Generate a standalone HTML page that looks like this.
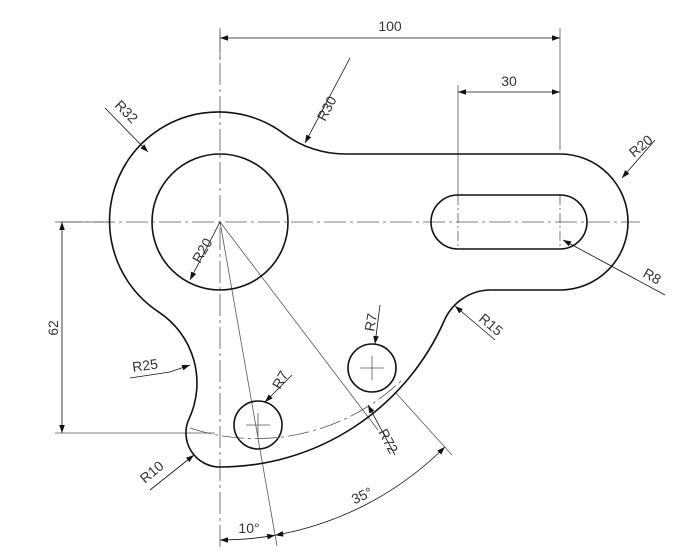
<!DOCTYPE html>
<html><head><meta charset="utf-8"><style>
html,body{margin:0;padding:0;background:#fff;}
svg{display:block;}
text{font-family:"Liberation Sans",sans-serif;font-size:14px;fill:#333;}
</style></head><body>
<svg width="691" height="560" viewBox="0 0 691 560">
<defs>
<marker id="ar" viewBox="0 0 10 10" refX="10" refY="5" markerWidth="12" markerHeight="8" orient="auto-start-reverse" markerUnits="userSpaceOnUse"><path d="M0,1.5 L10,5 L0,8.5 z" fill="#111"/></marker>
</defs>
<g stroke="#555" stroke-width="0.8" fill="none" stroke-dasharray="22,4,3,4">
<line x1="220" y1="30" x2="220" y2="548"/>
<line x1="60" y1="222" x2="640" y2="222"/>
<path d="M190,428 A211,211 0 0 0 402,380"/>
</g>
<g stroke="#555" stroke-width="0.8" fill="none">
<line x1="458" y1="195" x2="458" y2="249" stroke-dasharray="10,3,2,3"/>
<line x1="560" y1="195" x2="560" y2="249" stroke-dasharray="10,3,2,3"/>
<line x1="246" y1="425" x2="270" y2="425"/><line x1="258" y1="413" x2="258" y2="437"/>
<line x1="360" y1="368" x2="384" y2="368"/><line x1="372" y1="356" x2="372" y2="380"/>
<line x1="220" y1="222" x2="378" y2="430"/>
<line x1="220" y1="222" x2="277" y2="546"/>
<line x1="395" y1="392" x2="452" y2="455"/>
<line x1="220" y1="28" x2="220" y2="60"/>
<line x1="560" y1="28" x2="560" y2="150"/>
<line x1="458" y1="85" x2="458" y2="195"/>
<line x1="55" y1="222" x2="110" y2="222"/>
<line x1="55" y1="433" x2="215" y2="433"/>
</g>
<path fill="none" stroke="#111" stroke-width="1.6"
d="M345,154 L560,154 A68,68 0 0 1 628,222 A68,68 0 0 1 560,290 L491,290 A51,51 0 0 0 444.3,320.5 A245,245 0 0 1 220,467 A34,34 0 0 1 189.1,418.7 A85,85 0 0 0 159.3,312.4 A109,109 0 1 1 284.6,134.2 A102,102 0 0 0 345,154 Z"/>
<circle cx="220" cy="222" r="68" fill="none" stroke="#111" stroke-width="1.6"/>
<rect x="431" y="195" width="156" height="54" rx="27" fill="none" stroke="#111" stroke-width="1.6"/>
<circle cx="258" cy="425" r="24" fill="none" stroke="#111" stroke-width="1.6"/>
<circle cx="372" cy="368" r="24" fill="none" stroke="#111" stroke-width="1.6"/>
<g stroke="#111" stroke-width="0.8" fill="none">
<line x1="220" y1="38" x2="560" y2="38" marker-start="url(#ar)" marker-end="url(#ar)"/>
<line x1="458" y1="92" x2="560" y2="92" marker-start="url(#ar)" marker-end="url(#ar)"/>
<line x1="62" y1="222" x2="62" y2="433" marker-start="url(#ar)" marker-end="url(#ar)"/>
<path d="M220,540 A318,318 0 0 0 275.2,535.2" marker-start="url(#ar)" marker-end="url(#ar)"/>
<path d="M275.2,535.2 A318,318 0 0 0 444.9,446.9" marker-start="url(#ar)" marker-end="url(#ar)"/>
<line x1="105" y1="108" x2="148" y2="152" marker-end="url(#ar)"/>
<line x1="350" y1="58" x2="305" y2="143" marker-end="url(#ar)"/>
<line x1="220" y1="222" x2="190" y2="280" marker-end="url(#ar)"/>
<line x1="655" y1="140" x2="622" y2="178" marker-end="url(#ar)"/>
<line x1="665" y1="295" x2="563" y2="240" marker-end="url(#ar)"/>
<polyline points="130,378 170,372 190,365" marker-end="url(#ar)"/>
<line x1="495" y1="340" x2="455" y2="306" marker-end="url(#ar)"/>
<line x1="292" y1="375" x2="265" y2="402" marker-end="url(#ar)"/>
<line x1="380" y1="305" x2="375" y2="344" marker-end="url(#ar)"/>
<line x1="150" y1="490" x2="194" y2="455" marker-end="url(#ar)"/>
<line x1="395" y1="455" x2="368" y2="405" marker-end="url(#ar)"/>
</g>
<text x="390" y="31" text-anchor="middle">100</text>
<text x="509" y="86" text-anchor="middle">30</text>
<text transform="translate(58,328) rotate(-90)" text-anchor="middle">62</text>
<text x="249" y="533" text-anchor="middle">10°</text>
<text transform="translate(364,500) rotate(-25)" text-anchor="middle">35°</text>
<text transform="translate(114,106) rotate(45)">R32</text>
<text transform="translate(325,122) rotate(-62)">R30</text>
<text transform="translate(200,264) rotate(-60)">R20</text>
<text transform="translate(634,158) rotate(-40)">R20</text>
<text transform="translate(642,276) rotate(30)">R8</text>
<text transform="translate(133,372) rotate(-8)">R25</text>
<text transform="translate(478,320) rotate(40)">R15</text>
<text transform="translate(280,390) rotate(-60)">R7</text>
<text transform="translate(374,332) rotate(-80)">R7</text>
<text transform="translate(145,484) rotate(-40)">R10</text>
<text transform="translate(378,432) rotate(62)">R72</text>
</svg>
</body></html>
